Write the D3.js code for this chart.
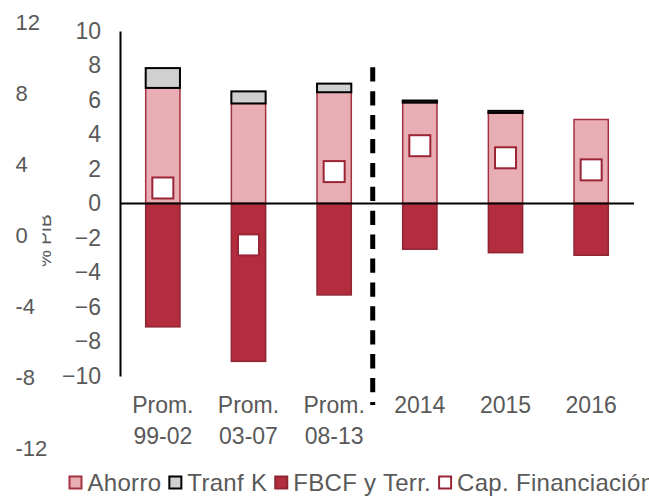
<!DOCTYPE html>
<html>
<head>
<meta charset="utf-8">
<script src="https://cdn.jsdelivr.net/npm/d3@7"></script>
<style>
  body { margin: 0; background: #fff; }
  svg { display: block; font-family: "Liberation Sans", Arial, sans-serif; }
</style>
</head>
<body>
<svg width="649" height="496"></svg>
<script>
// categories (each label split in lines)
const categories = ["Prom. 99-02", "Prom. 03-07", "Prom. 08-13", "2014", "2015", "2016"];
const catLines = [["Prom.", "99-02"], ["Prom.", "03-07"], ["Prom.", "08-13"], ["2014"], ["2015"], ["2016"]];

// series, % PIB
const ahorro = [6.7, 5.8, 6.45, 5.85, 5.25, 4.87];
const tranfK = [1.15, 0.7, 0.5, 0.12, 0.12, 0];
const fbcf = [-7.15, -9.15, -5.3, -2.65, -2.85, -3.0];
const capFin = [0.9, -2.4, 1.85, 3.35, 2.65, 1.95];

const yTicks = [10, 8, 6, 4, 2, 0, -2, -4, -6, -8, -10];
const y2Ticks = [12, 8, 4, 0, -4, -8, -12];

const legendNames = ["Ahorro", "Tranf K", "FBCF y Terr.", "Cap. Financiación"];

var svg = d3.select("svg");
var textColor = "#595959";

var x = d3.scaleBand()
  .domain(categories)
  .range([120, 634])
  .paddingInner(0.6)
  .paddingOuter(0.3);

var y = d3.scaleLinear().domain([-10, 10]).range([376, 31]);
var y2 = d3.scaleLinear().domain([-12, 12]).range([448, 22.5]);

var bw = x.bandwidth();

// the leftover secondary axis labels
svg.append("g")
  .selectAll("text")
  .data(y2Ticks)
  .enter().append("text")
  .attr("x", 15.5)
  .attr("y", function (d) { return y2(d); })
  .attr("dy", "0.35em")
  .attr("fill", textColor)
  .style("font-size", "22px")
  .text(function (d) { return d; });

// axis title, partly hidden
svg.append("clipPath").attr("id", "titleClip")
  .append("rect").attr("x", 42.5).attr("y", 150).attr("width", 40).attr("height", 150);

svg.append("g")
  .attr("clip-path", "url(#titleClip)")
  .append("text")
  .attr("transform", "translate(50.5,267) rotate(-90)")
  .attr("fill", textColor)
  .style("font-size", "19px")
  .text("% PIB");

// main y axis
var yAxis = svg.append("g")
  .attr("transform", "translate(120,0)")
  .call(d3.axisLeft(y).tickValues(yTicks).tickSize(0).tickPadding(19).tickSizeOuter(0));

yAxis.select(".domain").attr("stroke", "#000").attr("stroke-width", 2);
yAxis.selectAll("text")
  .attr("fill", textColor)
  .style("font-size", "23px")
  .style("font-family", "'Liberation Sans', Arial, sans-serif");

var rows = categories.map(function (c, i) {
  return { cat: c, ahorro: ahorro[i], tranfK: tranfK[i], fbcf: fbcf[i], cap: capFin[i] };
});

// Ahorro
svg.append("g")
  .selectAll("rect")
  .data(rows)
  .enter().append("rect")
  .attr("x", function (d) { return x(d.cat); })
  .attr("y", function (d) { return y(d.ahorro); })
  .attr("width", bw)
  .attr("height", function (d) { return y(0) - y(d.ahorro); })
  .attr("fill", "#E9AEB4")
  .attr("stroke", "#A3313F")
  .attr("stroke-width", 1.5);

// Tranf K
svg.append("g")
  .selectAll("rect")
  .data(rows.filter(function (d) { return d.tranfK > 0; }))
  .enter().append("rect")
  .attr("x", function (d) { return x(d.cat); })
  .attr("y", function (d) { return y(d.ahorro + d.tranfK); })
  .attr("width", bw)
  .attr("height", function (d) { return y(d.ahorro) - y(d.ahorro + d.tranfK); })
  .attr("fill", "#D0D0D0")
  .attr("stroke", "#000")
  .attr("stroke-width", 2);

// FBCF y Terr.
svg.append("g")
  .selectAll("rect")
  .data(rows)
  .enter().append("rect")
  .attr("x", function (d) { return x(d.cat); })
  .attr("y", y(0))
  .attr("width", bw)
  .attr("height", function (d) { return y(d.fbcf) - y(0); })
  .attr("fill", "#B32D3E")
  .attr("stroke", "#8F2634")
  .attr("stroke-width", 1.5);

// zero line
svg.append("line")
  .attr("x1", 120).attr("x2", 634)
  .attr("y1", y(0)).attr("y2", y(0))
  .attr("stroke", "#000")
  .attr("stroke-width", 2);

// Cap. Financiacion markers
var ms = 21;
svg.append("g")
  .selectAll("rect")
  .data(rows)
  .enter().append("rect")
  .attr("x", function (d) { return x(d.cat) + bw / 2 - ms / 2; })
  .attr("y", function (d) { return y(d.cap) - ms / 2; })
  .attr("width", ms)
  .attr("height", ms)
  .attr("fill", "#fff")
  .attr("stroke", "#9B2536")
  .attr("stroke-width", 2);

// dashed separator between averages and years
var sepX = x(categories[3]) - x.step() * 0.35;
svg.append("line")
  .attr("x1", sepX).attr("x2", sepX)
  .attr("y1", 67.3).attr("y2", 405)
  .attr("stroke", "#000")
  .attr("stroke-width", 5)
  .attr("stroke-dasharray", "14.3,9.6");

// category labels
var catG = svg.append("g")
  .selectAll("text")
  .data(catLines)
  .enter().append("text")
  .attr("fill", textColor)
  .attr("text-anchor", "middle")
  .style("font-size", "23px");

catG.each(function (lines, i) {
  var t = d3.select(this);
  lines.forEach(function (l, j) {
    t.append("tspan")
      .attr("x", x(categories[i]) + bw / 2)
      .attr("y", 413 + j * 30.7)
      .text(l);
  });
});

// legend
var legendStyle = [
  { fill: "#E9AEB4", stroke: "#A3313F" },
  { fill: "#D0D0D0", stroke: "#000" },
  { fill: "#B32D3E", stroke: "#8F2634" },
  { fill: "#fff", stroke: "#9B2536" }
];

var lx = 69.5;
legendNames.forEach(function (name, i) {
  svg.append("rect")
    .attr("x", lx).attr("y", 476.5)
    .attr("width", 12).attr("height", 12)
    .attr("fill", legendStyle[i].fill)
    .attr("stroke", legendStyle[i].stroke)
    .attr("stroke-width", 2);
  var t = svg.append("text")
    .attr("x", lx + 18)
    .attr("y", 491)
    .attr("fill", textColor)
    .style("font-size", "24px")
    .style("letter-spacing", "0.3px")
    .text(name);
  lx = lx + 18 + t.node().getComputedTextLength() + 8;
});
</script>
</body>
</html>
